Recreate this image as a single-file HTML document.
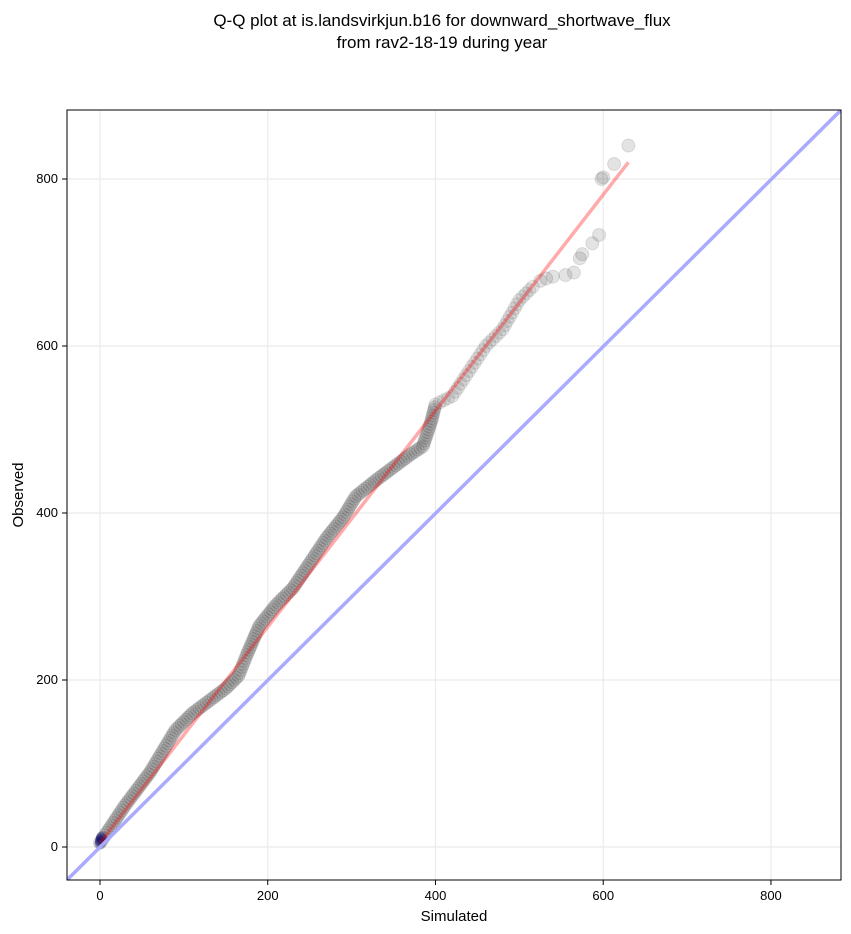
<!DOCTYPE html>
<html><head><meta charset="utf-8"><style>
body{margin:0;background:#fff;}
svg{display:block;font-family:"Liberation Sans","DejaVu Sans",sans-serif;}
</style></head><body>
<svg id="s" width="851" height="934" viewBox="0 0 851 934">
<text x="442" y="26" font-size="17" text-anchor="middle">Q-Q plot at is.landsvirkjun.b16 for downward_shortwave_flux</text>
<text x="442" y="48" font-size="17" text-anchor="middle">from rav2-18-19 during year</text>
<defs><clipPath id="c"><rect x="67" y="110" width="774" height="770"/></clipPath></defs>
<g id="grid" stroke="#ebebeb" stroke-width="1.2"></g>
<g id="pts" clip-path="url(#c)"></g>
<line x1="67" y1="880" x2="841" y2="110" stroke="#aaaaff" stroke-width="3.5" clip-path="url(#c)"/>
<line id="red" stroke="#ff0000" stroke-opacity="0.33" stroke-width="3.5"/>
<rect x="67" y="110" width="774" height="770" fill="none" stroke="#000" stroke-width="1"/>
<g id="ticks" font-size="13"></g>
<text x="454" y="921" font-size="15" text-anchor="middle">Simulated</text>
<text transform="translate(23,495) rotate(-90)" font-size="15" text-anchor="middle">Observed</text>
</svg>
<script>
var NS="http://www.w3.org/2000/svg";
function X(v){return 100+v*0.8387;}function Y(v){return 847-v*0.835;}
function el(t,a,p){var e=document.createElementNS(NS,t);for(var k in a)e.setAttribute(k,a[k]);p.appendChild(e);return e;}
var g=document.getElementById('grid'),tk=document.getElementById('ticks');
[0,200,400,600,800].forEach(function(v){
el('line',{x1:X(v),x2:X(v),y1:110,y2:880},g);
el('line',{x1:67,x2:841,y1:Y(v),y2:Y(v)},g);
el('line',{x1:X(v),x2:X(v),y1:880,y2:885,stroke:'#000'},tk);
el('line',{x1:62,x2:67,y1:Y(v),y2:Y(v),stroke:'#000'},tk);
el('text',{x:X(v),y:900,'text-anchor':'middle'},tk).textContent=v;
el('text',{x:58,y:Y(v)+4,'text-anchor':'end'},tk).textContent=v;
});
var r=document.getElementById('red');
r.setAttribute('x1',X(0));r.setAttribute('y1',Y(5));r.setAttribute('x2',X(630));r.setAttribute('y2',Y(820));
var P=[[0,5],[30,50],[60,90],[90,140],[110,160],[130,175],[150,190],[165,205],[175,230],[190,265],[210,290],[230,310],[250,340],[270,370],[290,395],[305,420],[330,440],[350,455],[370,470],[385,480],[395,510],[400,530],[420,540],[440,570],[460,600],[480,620],[500,655],[520,675]];
var pts=document.getElementById('pts');
function dot(x,y,o){el('circle',{cx:X(x),cy:Y(y),r:6.5,fill:'#444',stroke:'#222','stroke-width':1,'fill-opacity':o,'stroke-opacity':o*0.8},pts);}
for(var i=0;i<P.length-1;i++){
var a=P[i],b=P[i+1];var d=Math.hypot(X(b[0])-X(a[0]),Y(b[1])-Y(a[1]));
var step=a[0]<400?3:5;var n=Math.max(1,Math.round(d/step));
for(var j=0;j<n;j++){var t=j/n;
dot(a[0]+(b[0]-a[0])*t,a[1]+(b[1]-a[1])*t,a[0]<400?0.16:0.13);}
}
[[525,678],[532,681],[540,683],[555,685],[565,688],[572,705],[575,710],[587,723],[595,733],[598,800],[600,802],[613,818],[630,840]].forEach(function(p){dot(p[0],p[1],0.15);});
for(var k=0;k<5;k++)el('circle',{cx:X(0)+k*0.4,cy:Y(4+k*2),r:5.5,fill:'#000066','fill-opacity':0.3},pts);
</script>
</body></html>
